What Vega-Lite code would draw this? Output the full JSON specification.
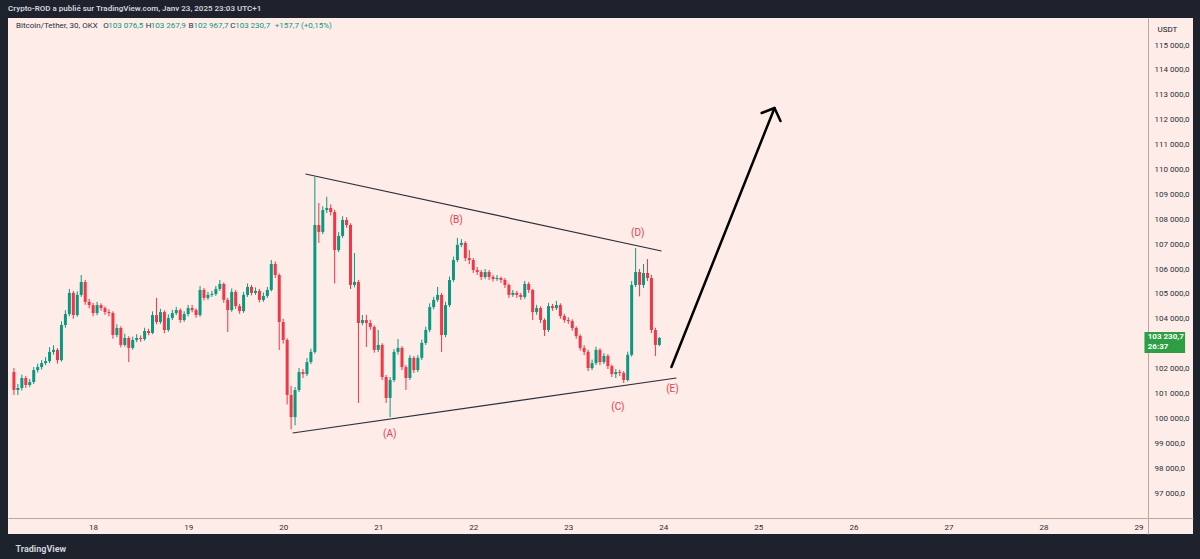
{
  "$schema": "https://vega.github.io/schema/vega-lite/v6.json",
  "width": 1185,
  "height": 516,
  "autosize": {"type": "none"},
  "padding": {"left": 8, "top": 18, "right": 7, "bottom": 25},
  "background": "#1e222d",
  "view": {"fill": "#fdece8", "stroke": null},
  "config": {
    "font": "Roboto",
    "axis": {"labelOverlap": false, "labelFlush": false, "grid": false, "ticks": false, "labelFontSize": 8, "labelColor": "#2a2e39", "domainColor": "#b5a9a6", "domainWidth": 1, "labelFont": "Roboto"}
  },
  "title": {"text": "Crypto-ROD a publié sur TradingView.com, Janv 23, 2025 23:03 UTC+1", "anchor": "start", "color": "#d1d4dc", "fontSize": 8, "fontWeight": 600, "offset": 5, "font": "Roboto"},
  "layer": [
    {
      "data": {"format": {"parse": {"t": "utc:'%Y-%m-%d %H:%M'"}}, "values": [
        {"t":"2025-01-17 04:00","o":101860,"h":102020,"l":100940,"c":101140},
        {"t":"2025-01-17 05:00","o":101140,"h":101380,"l":100940,"c":101220},
        {"t":"2025-01-17 06:00","o":101220,"h":101760,"l":101120,"c":101620},
        {"t":"2025-01-17 07:00","o":101620,"h":101700,"l":101220,"c":101340},
        {"t":"2025-01-17 08:00","o":101340,"h":101580,"l":101260,"c":101460},
        {"t":"2025-01-17 09:00","o":101460,"h":102060,"l":101380,"c":101940},
        {"t":"2025-01-17 10:00","o":101940,"h":102200,"l":101840,"c":102060},
        {"t":"2025-01-17 11:00","o":102060,"h":102340,"l":101960,"c":102220},
        {"t":"2025-01-17 12:00","o":102220,"h":102460,"l":102140,"c":102300},
        {"t":"2025-01-17 13:00","o":102300,"h":102860,"l":102220,"c":102670},
        {"t":"2025-01-17 14:00","o":102670,"h":102940,"l":102560,"c":102750},
        {"t":"2025-01-17 15:00","o":102750,"h":102820,"l":102200,"c":102340},
        {"t":"2025-01-17 16:00","o":102340,"h":103900,"l":102280,"c":103750},
        {"t":"2025-01-17 17:00","o":103750,"h":104350,"l":103640,"c":104190},
        {"t":"2025-01-17 18:00","o":104190,"h":105200,"l":104100,"c":105040},
        {"t":"2025-01-17 19:00","o":105040,"h":105120,"l":104000,"c":104150},
        {"t":"2025-01-17 20:00","o":104150,"h":105100,"l":104080,"c":104960},
        {"t":"2025-01-17 21:00","o":104960,"h":105760,"l":104880,"c":105480},
        {"t":"2025-01-17 22:00","o":105480,"h":105560,"l":104560,"c":104680},
        {"t":"2025-01-17 23:00","o":104680,"h":104800,"l":104420,"c":104550},
        {"t":"2025-01-18 00:00","o":104550,"h":104640,"l":104100,"c":104230},
        {"t":"2025-01-18 01:00","o":104230,"h":104680,"l":104140,"c":104550},
        {"t":"2025-01-18 02:00","o":104550,"h":104620,"l":104320,"c":104430},
        {"t":"2025-01-18 03:00","o":104430,"h":104500,"l":104160,"c":104270},
        {"t":"2025-01-18 04:00","o":104270,"h":104380,"l":104100,"c":104230},
        {"t":"2025-01-18 05:00","o":104230,"h":104300,"l":103200,"c":103350},
        {"t":"2025-01-18 06:00","o":103350,"h":103780,"l":103260,"c":103630},
        {"t":"2025-01-18 07:00","o":103630,"h":103700,"l":102850,"c":102950},
        {"t":"2025-01-18 08:00","o":102950,"h":103400,"l":102880,"c":103230},
        {"t":"2025-01-18 09:00","o":103230,"h":103300,"l":102260,"c":102830},
        {"t":"2025-01-18 10:00","o":102830,"h":103280,"l":102760,"c":103150},
        {"t":"2025-01-18 11:00","o":103150,"h":103380,"l":103060,"c":103230},
        {"t":"2025-01-18 12:00","o":103230,"h":103330,"l":103080,"c":103190},
        {"t":"2025-01-18 13:00","o":103190,"h":103640,"l":103120,"c":103510},
        {"t":"2025-01-18 14:00","o":103510,"h":103600,"l":103340,"c":103430},
        {"t":"2025-01-18 15:00","o":103430,"h":104300,"l":103380,"c":104150},
        {"t":"2025-01-18 16:00","o":104150,"h":104840,"l":103780,"c":103870},
        {"t":"2025-01-18 17:00","o":103870,"h":104400,"l":103790,"c":104270},
        {"t":"2025-01-18 18:00","o":104270,"h":104340,"l":103420,"c":103550},
        {"t":"2025-01-18 19:00","o":103550,"h":104180,"l":103480,"c":104030},
        {"t":"2025-01-18 20:00","o":104030,"h":104360,"l":103950,"c":104230},
        {"t":"2025-01-18 21:00","o":104230,"h":104480,"l":104150,"c":104350},
        {"t":"2025-01-18 22:00","o":104350,"h":104420,"l":103840,"c":103950},
        {"t":"2025-01-18 23:00","o":103950,"h":104300,"l":103880,"c":104190},
        {"t":"2025-01-19 00:00","o":104190,"h":104560,"l":104100,"c":104430},
        {"t":"2025-01-19 01:00","o":104430,"h":104560,"l":104260,"c":104350},
        {"t":"2025-01-19 02:00","o":104350,"h":104420,"l":104040,"c":104150},
        {"t":"2025-01-19 03:00","o":104150,"h":105320,"l":104080,"c":105160},
        {"t":"2025-01-19 04:00","o":105160,"h":105240,"l":104740,"c":104840},
        {"t":"2025-01-19 05:00","o":104840,"h":105080,"l":104760,"c":104960},
        {"t":"2025-01-19 06:00","o":104960,"h":105120,"l":104880,"c":105000},
        {"t":"2025-01-19 07:00","o":105000,"h":105320,"l":104920,"c":105200},
        {"t":"2025-01-19 08:00","o":105200,"h":105560,"l":105120,"c":105400},
        {"t":"2025-01-19 09:00","o":105400,"h":105460,"l":104640,"c":104760},
        {"t":"2025-01-19 10:00","o":104760,"h":104840,"l":103470,"c":104350},
        {"t":"2025-01-19 11:00","o":104350,"h":105220,"l":104280,"c":105080},
        {"t":"2025-01-19 12:00","o":105080,"h":105160,"l":104400,"c":104510},
        {"t":"2025-01-19 13:00","o":104510,"h":104600,"l":104200,"c":104310},
        {"t":"2025-01-19 14:00","o":104310,"h":105080,"l":104240,"c":104960},
        {"t":"2025-01-19 15:00","o":104960,"h":105420,"l":104880,"c":105280},
        {"t":"2025-01-19 16:00","o":105280,"h":105360,"l":104940,"c":105040},
        {"t":"2025-01-19 17:00","o":105040,"h":105260,"l":104960,"c":105120},
        {"t":"2025-01-19 18:00","o":105120,"h":105200,"l":104660,"c":104760},
        {"t":"2025-01-19 19:00","o":104760,"h":105060,"l":104680,"c":104920},
        {"t":"2025-01-19 20:00","o":104920,"h":105280,"l":104840,"c":105160},
        {"t":"2025-01-19 21:00","o":105160,"h":106360,"l":105100,"c":106200},
        {"t":"2025-01-19 22:00","o":106200,"h":106300,"l":105640,"c":105760},
        {"t":"2025-01-19 23:00","o":105760,"h":105820,"l":102750,"c":103870},
        {"t":"2025-01-20 00:00","o":103870,"h":104000,"l":103000,"c":103150},
        {"t":"2025-01-20 01:00","o":103150,"h":103220,"l":100560,"c":100940},
        {"t":"2025-01-20 02:00","o":100940,"h":101300,"l":99560,"c":100050},
        {"t":"2025-01-20 03:00","o":100050,"h":101260,"l":99720,"c":101140},
        {"t":"2025-01-20 04:00","o":101140,"h":102020,"l":101060,"c":101860},
        {"t":"2025-01-20 05:00","o":101860,"h":101980,"l":101620,"c":101780},
        {"t":"2025-01-20 06:00","o":101780,"h":102420,"l":101700,"c":102260},
        {"t":"2025-01-20 07:00","o":102260,"h":102800,"l":102180,"c":102670},
        {"t":"2025-01-20 08:00","o":102670,"h":109700,"l":102600,"c":107770},
        {"t":"2025-01-20 09:00","o":107770,"h":108650,"l":107050,"c":107490},
        {"t":"2025-01-20 10:00","o":107490,"h":108520,"l":107400,"c":108370},
        {"t":"2025-01-20 11:00","o":108370,"h":108900,"l":108250,"c":108450},
        {"t":"2025-01-20 12:00","o":108450,"h":108600,"l":108150,"c":108290},
        {"t":"2025-01-20 13:00","o":108290,"h":108380,"l":105420,"c":106760},
        {"t":"2025-01-20 14:00","o":106760,"h":107480,"l":106680,"c":107330},
        {"t":"2025-01-20 15:00","o":107330,"h":108120,"l":107250,"c":107970},
        {"t":"2025-01-20 16:00","o":107970,"h":108080,"l":107660,"c":107770},
        {"t":"2025-01-20 17:00","o":107770,"h":107840,"l":105200,"c":105360},
        {"t":"2025-01-20 18:00","o":105360,"h":106640,"l":105260,"c":105480},
        {"t":"2025-01-20 19:00","o":105480,"h":105560,"l":100620,"c":103830},
        {"t":"2025-01-20 20:00","o":103830,"h":104150,"l":103740,"c":103950},
        {"t":"2025-01-20 21:00","o":103950,"h":104160,"l":102870,"c":103830},
        {"t":"2025-01-20 22:00","o":103830,"h":103960,"l":103560,"c":103670},
        {"t":"2025-01-20 23:00","o":103670,"h":103740,"l":102640,"c":102750},
        {"t":"2025-01-21 00:00","o":102750,"h":103550,"l":102660,"c":102950},
        {"t":"2025-01-21 01:00","o":102950,"h":103020,"l":101540,"c":101660},
        {"t":"2025-01-21 02:00","o":101660,"h":101740,"l":100620,"c":100820},
        {"t":"2025-01-21 03:00","o":100820,"h":101660,"l":100050,"c":101540},
        {"t":"2025-01-21 04:00","o":101540,"h":102780,"l":101460,"c":102670},
        {"t":"2025-01-21 05:00","o":102670,"h":103190,"l":102560,"c":102830},
        {"t":"2025-01-21 06:00","o":102830,"h":102900,"l":101940,"c":102060},
        {"t":"2025-01-21 07:00","o":102060,"h":102140,"l":101140,"c":101620},
        {"t":"2025-01-21 08:00","o":101620,"h":102540,"l":101540,"c":102430},
        {"t":"2025-01-21 09:00","o":102430,"h":102500,"l":101820,"c":101940},
        {"t":"2025-01-21 10:00","o":101940,"h":102540,"l":101860,"c":102430},
        {"t":"2025-01-21 11:00","o":102430,"h":103160,"l":102340,"c":103030},
        {"t":"2025-01-21 12:00","o":103030,"h":103680,"l":102950,"c":103550},
        {"t":"2025-01-21 13:00","o":103550,"h":104620,"l":103460,"c":104470},
        {"t":"2025-01-21 14:00","o":104470,"h":104880,"l":104380,"c":104760},
        {"t":"2025-01-21 15:00","o":104760,"h":105280,"l":104680,"c":104960},
        {"t":"2025-01-21 16:00","o":104960,"h":105040,"l":102670,"c":103350},
        {"t":"2025-01-21 17:00","o":103350,"h":104680,"l":103260,"c":104550},
        {"t":"2025-01-21 18:00","o":104550,"h":105700,"l":104470,"c":105560},
        {"t":"2025-01-21 19:00","o":105560,"h":106500,"l":105480,"c":106360},
        {"t":"2025-01-21 20:00","o":106360,"h":107250,"l":106280,"c":106970},
        {"t":"2025-01-21 21:00","o":106970,"h":107200,"l":106880,"c":107050},
        {"t":"2025-01-21 22:00","o":107050,"h":107120,"l":106320,"c":106440},
        {"t":"2025-01-21 23:00","o":106440,"h":106760,"l":106200,"c":106360},
        {"t":"2025-01-22 00:00","o":106360,"h":106440,"l":105840,"c":105960},
        {"t":"2025-01-22 01:00","o":105960,"h":106080,"l":105760,"c":105880},
        {"t":"2025-01-22 02:00","o":105880,"h":105960,"l":105560,"c":105680},
        {"t":"2025-01-22 03:00","o":105680,"h":106000,"l":105600,"c":105880},
        {"t":"2025-01-22 04:00","o":105880,"h":105960,"l":105560,"c":105680},
        {"t":"2025-01-22 05:00","o":105680,"h":105760,"l":105500,"c":105600},
        {"t":"2025-01-22 06:00","o":105600,"h":105760,"l":105520,"c":105640},
        {"t":"2025-01-22 07:00","o":105640,"h":105700,"l":105440,"c":105560},
        {"t":"2025-01-22 08:00","o":105560,"h":105640,"l":105240,"c":105360},
        {"t":"2025-01-22 09:00","o":105360,"h":105420,"l":104840,"c":104960},
        {"t":"2025-01-22 10:00","o":104960,"h":105160,"l":104880,"c":105040},
        {"t":"2025-01-22 11:00","o":105040,"h":105120,"l":104840,"c":104960},
        {"t":"2025-01-22 12:00","o":104960,"h":105040,"l":104760,"c":104880},
        {"t":"2025-01-22 13:00","o":104880,"h":105520,"l":104800,"c":105400},
        {"t":"2025-01-22 14:00","o":105400,"h":105480,"l":105040,"c":105160},
        {"t":"2025-01-22 15:00","o":105160,"h":105200,"l":103950,"c":104270},
        {"t":"2025-01-22 16:00","o":104270,"h":104560,"l":104160,"c":104430},
        {"t":"2025-01-22 17:00","o":104430,"h":104500,"l":103830,"c":103950},
        {"t":"2025-01-22 18:00","o":103950,"h":104020,"l":103310,"c":103550},
        {"t":"2025-01-22 19:00","o":103550,"h":104640,"l":103470,"c":104510},
        {"t":"2025-01-22 20:00","o":104510,"h":104600,"l":104320,"c":104430},
        {"t":"2025-01-22 21:00","o":104430,"h":104720,"l":104350,"c":104550},
        {"t":"2025-01-22 22:00","o":104550,"h":104620,"l":104000,"c":104110},
        {"t":"2025-01-22 23:00","o":104110,"h":104200,"l":103840,"c":103950},
        {"t":"2025-01-23 00:00","o":103950,"h":104060,"l":103800,"c":103910},
        {"t":"2025-01-23 01:00","o":103910,"h":103980,"l":103520,"c":103630},
        {"t":"2025-01-23 02:00","o":103630,"h":103700,"l":103200,"c":103310},
        {"t":"2025-01-23 03:00","o":103310,"h":103380,"l":102720,"c":102830},
        {"t":"2025-01-23 04:00","o":102830,"h":102940,"l":102540,"c":102670},
        {"t":"2025-01-23 05:00","o":102670,"h":102760,"l":101900,"c":102020},
        {"t":"2025-01-23 06:00","o":102020,"h":102360,"l":101940,"c":102220},
        {"t":"2025-01-23 07:00","o":102220,"h":102880,"l":102140,"c":102750},
        {"t":"2025-01-23 08:00","o":102750,"h":102820,"l":102140,"c":102260},
        {"t":"2025-01-23 09:00","o":102260,"h":102620,"l":102180,"c":102510},
        {"t":"2025-01-23 10:00","o":102510,"h":102580,"l":101980,"c":102100},
        {"t":"2025-01-23 11:00","o":102100,"h":102160,"l":101660,"c":101780},
        {"t":"2025-01-23 12:00","o":101780,"h":101980,"l":101620,"c":101860},
        {"t":"2025-01-23 13:00","o":101860,"h":101960,"l":101700,"c":101820},
        {"t":"2025-01-23 14:00","o":101820,"h":101900,"l":101420,"c":101540},
        {"t":"2025-01-23 15:00","o":101540,"h":102680,"l":101480,"c":102550},
        {"t":"2025-01-23 16:00","o":102550,"h":105520,"l":102480,"c":105360},
        {"t":"2025-01-23 17:00","o":105360,"h":106840,"l":105280,"c":105880},
        {"t":"2025-01-23 18:00","o":105880,"h":106000,"l":104900,"c":105360},
        {"t":"2025-01-23 19:00","o":105360,"h":106200,"l":105240,"c":105840},
        {"t":"2025-01-23 20:00","o":105840,"h":106400,"l":105520,"c":105640},
        {"t":"2025-01-23 21:00","o":105640,"h":105760,"l":103420,"c":103550},
        {"t":"2025-01-23 22:00","o":103550,"h":103640,"l":102500,"c":102950},
        {"t":"2025-01-23 23:00","o":102950,"h":103267.9,"l":102900,"c":103230.7}
      ]},
      "layer": [
        {
          "mark": {"type": "rule", "strokeWidth": 1, "clip": true},
          "encoding": {
            "x": {"field": "t", "type": "temporal",
              "scale": {"type": "utc", "domain": [{"year": 2025, "month": 1, "date": 17, "hours": 3, "minutes": 46, "utc": true}, {"year": 2025, "month": 1, "date": 29, "hours": 12, "minutes": 30, "utc": true}]},
              "axis": {"orient": "bottom", "offset": -16, "title": "TradingView", "titleAnchor": "start", "titleAlign": "left", "titleX": 7, "titleY": 30, "titleBaseline": "middle", "titleColor": "#d1d4dc", "titleFontSize": 9, "titleFontWeight": "bold", "titleFont": "Roboto", "tickCount": 40,
                "values": [{"year": 2025, "month": 1, "date": 18, "utc": true}, {"year": 2025, "month": 1, "date": 19, "utc": true}, {"year": 2025, "month": 1, "date": 20, "utc": true}, {"year": 2025, "month": 1, "date": 21, "utc": true}, {"year": 2025, "month": 1, "date": 22, "utc": true}, {"year": 2025, "month": 1, "date": 23, "utc": true}, {"year": 2025, "month": 1, "date": 24, "utc": true}, {"year": 2025, "month": 1, "date": 25, "utc": true}, {"year": 2025, "month": 1, "date": 26, "utc": true}, {"year": 2025, "month": 1, "date": 27, "utc": true}, {"year": 2025, "month": 1, "date": 28, "utc": true}, {"year": 2025, "month": 1, "date": 29, "utc": true}],
                "labelExpr": "utcFormat(datum.value, '%-d')", "labelPadding": 5}},
            "y": {"field": "l", "type": "quantitative",
              "scale": {"domain": [95353, 116086], "nice": false, "zero": false},
              "axis": {"orient": "right", "offset": -45, "title": "USDT", "titleAngle": 0, "titleX": 9, "titleY": 11, "titleAlign": "left", "titleBaseline": "middle", "titleFontSize": 8, "titleFontWeight": "normal", "titleColor": "#131722", "tickCount": 40,
                "values": [97000, 98000, 99000, 100000, 101000, 102000, 104000, 105000, 106000, 107000, 108000, 109000, 110000, 111000, 112000, 113000, 114000, 115000],
                "labelExpr": "replace(replace(format(datum.value, ',.1f'), ',', ' '), '.', ',')",
                "labelPadding": 6}},
            "y2": {"field": "h"},
            "color": {"condition": {"test": "datum.c >= datum.o", "value": "#089981"}, "value": "#f23645"}
          }
        },
        {
          "mark": {"type": "bar", "size": 3, "clip": true},
          "encoding": {
            "x": {"field": "t", "type": "temporal"},
            "y": {"field": "o", "type": "quantitative"},
            "y2": {"field": "c"},
            "color": {"condition": {"test": "datum.c >= datum.o", "value": "#089981"}, "value": "#f23645"}
          }
        }
      ]
    },
    {
      "data": {"format": {"parse": {"t": "utc:'%Y-%m-%d %H:%M'"}}, "values": [
        {"seg": "upper", "t": "2025-01-20 05:38", "p": 109818},
        {"seg": "upper", "t": "2025-01-23 23:32", "p": 106724},
        {"seg": "lower", "t": "2025-01-20 02:23", "p": 99411},
        {"seg": "lower", "t": "2025-01-24 03:18", "p": 101621}
      ]},
      "mark": {"type": "line", "color": "#2a2e39", "strokeWidth": 1.2},
      "encoding": {
        "x": {"field": "t", "type": "temporal"},
        "y": {"field": "p", "type": "quantitative"},
        "detail": {"field": "seg"}
      }
    },
    {
      "data": {"format": {"parse": {"t": "utc:'%Y-%m-%d %H:%M'"}}, "values": [
        {"seg": "shaft", "t": "2025-01-24 02:03", "p": 102063},
        {"seg": "shaft", "t": "2025-01-25 04:05", "p": 112470},
        {"seg": "head", "t": "2025-01-25 00:50", "p": 112269},
        {"seg": "head", "t": "2025-01-25 04:05", "p": 112470},
        {"seg": "head", "t": "2025-01-25 05:35", "p": 111947}
      ]},
      "mark": {"type": "line", "color": "#000000", "strokeWidth": 2.5, "strokeCap": "round", "strokeJoin": "round"},
      "encoding": {
        "x": {"field": "t", "type": "temporal"},
        "y": {"field": "p", "type": "quantitative"},
        "detail": {"field": "seg"}
      }
    },
    {
      "data": {"format": {"parse": {"t": "utc:'%Y-%m-%d %H:%M'"}}, "values": [
        {"label": "(A)", "t": "2025-01-21 02:56", "p": 99371},
        {"label": "(B)", "t": "2025-01-21 19:42", "p": 107969},
        {"label": "(C)", "t": "2025-01-23 12:31", "p": 100456},
        {"label": "(D)", "t": "2025-01-23 17:32", "p": 107447},
        {"label": "(E)", "t": "2025-01-24 02:18", "p": 101179}
      ]},
      "mark": {"type": "text", "color": "#e5404f", "fontSize": 10, "font": "Roboto", "align": "center", "baseline": "middle"},
      "encoding": {
        "x": {"field": "t", "type": "temporal"},
        "y": {"field": "p", "type": "quantitative"},
        "text": {"field": "label"}
      }
    },
    {
      "mark": {"type": "rule", "strokeDash": [1, 2], "color": "#9c8d86", "strokeWidth": 1},
      "encoding": {"y": {"datum": 103230.7}}
    },
    {
      "data": {"format": {"parse": {"t": "utc:'%Y-%m-%d %H:%M'"}}, "values": [
        {"text": "Bitcoin/Tether, 30, OKX", "kind": "label", "t": "2025-01-17 04:31", "p": 115764},
        {"text": "O", "kind": "label", "t": "2025-01-18 02:33", "p": 115764},
        {"text": "103 076,5", "kind": "value", "t": "2025-01-18 03:50", "p": 115764},
        {"text": "H", "kind": "label", "t": "2025-01-18 13:19", "p": 115764},
        {"text": "103 267,9", "kind": "value", "t": "2025-01-18 14:34", "p": 115764},
        {"text": "B", "kind": "label", "t": "2025-01-19 00:05", "p": 115764},
        {"text": "102 967,7", "kind": "value", "t": "2025-01-19 01:20", "p": 115764},
        {"text": "C", "kind": "label", "t": "2025-01-19 10:37", "p": 115764},
        {"text": "103 230,7", "kind": "value", "t": "2025-01-19 11:52", "p": 115764},
        {"text": "+157,7 (+0,15%)", "kind": "value", "t": "2025-01-19 21:53", "p": 115764}
      ]},
      "mark": {"type": "text", "fontSize": 8, "font": "Roboto", "align": "left", "baseline": "middle"},
      "encoding": {
        "x": {"field": "t", "type": "temporal"},
        "y": {"field": "p", "type": "quantitative"},
        "text": {"field": "text"},
        "color": {"field": "kind", "type": "nominal", "scale": {"domain": ["label", "value"], "range": ["#2a2e39", "#089981"]}, "legend": null}
      }
    },
    {
      "data": {"format": {"parse": {"t": "utc:'%Y-%m-%d %H:%M'", "t2": "utc:'%Y-%m-%d %H:%M'"}}, "values": [
        {"t": "2025-01-29 01:30", "t2": "2025-01-29 11:46", "p": 103470, "p2": 102625}
      ]},
      "mark": {"type": "rect", "color": "#2e9e45"},
      "encoding": {
        "x": {"field": "t", "type": "temporal"},
        "x2": {"field": "t2"},
        "y": {"field": "p", "type": "quantitative"},
        "y2": {"field": "p2"}
      }
    },
    {
      "data": {"format": {"parse": {"t": "utc:'%Y-%m-%d %H:%M'"}}, "values": [
        {"text": "103 230,7", "t": "2025-01-29 02:20", "p": 103270},
        {"text": "26:37", "t": "2025-01-29 02:20", "p": 102860}
      ]},
      "mark": {"type": "text", "color": "#ffffff", "fontSize": 8, "fontWeight": "bold", "font": "Roboto", "align": "left", "baseline": "middle"},
      "encoding": {
        "x": {"field": "t", "type": "temporal"},
        "y": {"field": "p", "type": "quantitative"},
        "text": {"field": "text"}
      }
    }
  ]
}
